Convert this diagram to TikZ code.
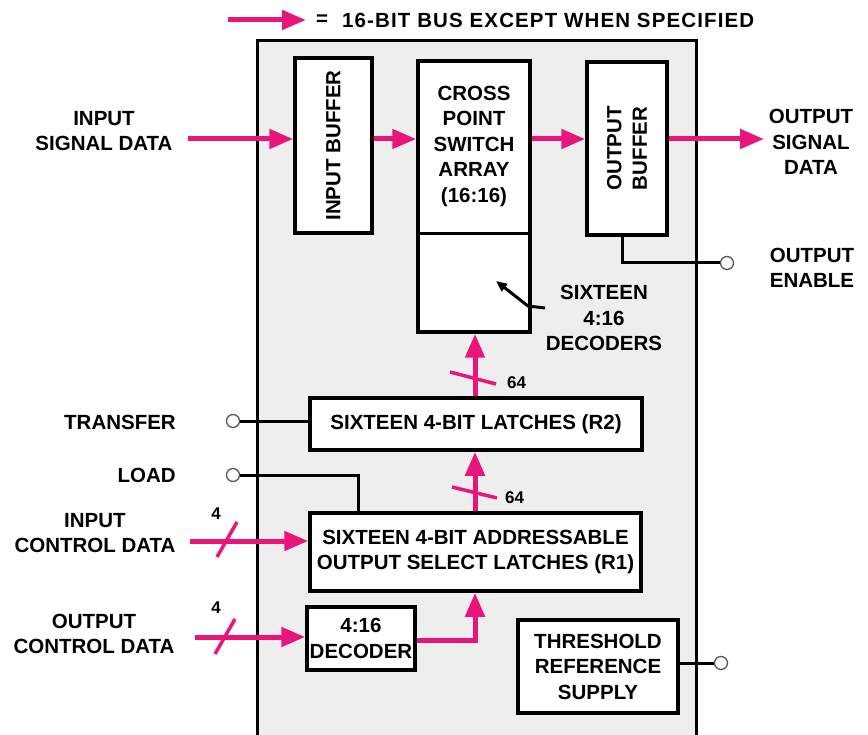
\documentclass[tikz,border=0pt]{standalone}
\usepackage{fontspec}
\setmainfont{Liberation Sans}
\usetikzlibrary{arrows.meta}
\definecolor{bus}{RGB}{232,22,122}
\definecolor{chipfill}{RGB}{238,238,238}
\begin{document}
\begin{tikzpicture}[x=1pt,y=-1pt,
  font=\bfseries\fontsize{20.5}{25.5}\selectfont,
  blk/.style={draw, line width=3.5pt, fill=white, inner sep=0pt, align=center},
  lbl/.style={align=center, inner sep=0pt},
  small/.style={font=\bfseries\fontsize{17}{20}\selectfont, inner sep=0pt},
  pin/.style={circle, draw=black!65, fill=white, line width=1.3pt, minimum size=13pt, inner sep=0pt},
  wire/.style={line width=3pt},
  busline/.style={draw=bus, line width=5pt},
  bus/.style={busline, -{Triangle[length=24pt,width=19pt]}},
  slash/.style={draw=bus, line width=3.5pt}
]
\useasboundingbox (0,0) rectangle (868,735);

% chip outline
\draw[line width=3pt, fill=chipfill] (257,41) rectangle (696,760);

% legend
\coordinate (lg0) at (228,20);
\coordinate (lg1) at (306,20);
\draw[bus] (lg0) -- (lg1);
\node[lbl] (eq) at (322,20) {=};
\node[lbl, anchor=west] (legend) at (342,20) {\addfontfeatures{LetterSpace=5.5}16-BIT BUS EXCEPT WHEN SPECIFIED};

% blocks
\node[blk, minimum width=77pt, minimum height=175pt] (ibuf) at (333.5,145.5) {};
\node[lbl, rotate=90] (ibuft) at (ibuf.center) {INPUT BUFFER};
\node[blk, minimum width=112pt, minimum height=271pt] (xp) at (474,196.5) {};
\node[lbl] (xpt) at (474,146) {CROSS\\POINT\\SWITCH\\ARRAY\\(16:16)};
\coordinate (div) at (0,234);
\draw[line width=3pt] (xp.west |- div) -- (xp.east |- div);
\node[blk, minimum width=80pt, minimum height=173pt] (obuf) at (627,148.5) {};
\node[lbl, rotate=90] (obuft) at (obuf.center) {OUTPUT\\BUFFER};
\node[blk, minimum width=332pt, minimum height=52pt] (r2) at (476,424) {SIXTEEN 4-BIT LATCHES (R2)};
\node[blk, minimum width=331pt, minimum height=78pt] (r1) at (475.5,552) {SIXTEEN 4-BIT ADDRESSABLE\\OUTPUT SELECT LATCHES (R1)};
\node[blk, minimum width=108pt, minimum height=63pt] (dec) at (361,638.5) {4:16\\DECODER};
\node[blk, minimum width=160pt, minimum height=93pt] (thr) at (598,666.5) {THRESHOLD\\REFERENCE\\SUPPLY};

% outside labels
\node[lbl] (isd) at (104,131) {INPUT\\SIGNAL DATA};
\node[lbl] (osd) at (811,142) {OUTPUT\\SIGNAL\\DATA};
\node[lbl] (oen) at (812,268) {OUTPUT\\ENABLE};
\node[lbl, anchor=east] (trl) at (176,422) {TRANSFER};
\node[lbl, anchor=east] (ldl) at (176,475) {LOAD};
\node[lbl] (icl) at (95,533) {INPUT\\CONTROL DATA};
\node[lbl] (ocl) at (94,634) {OUTPUT\\CONTROL DATA};
\node[lbl, align=center] (decl) at (604,318) {SIXTEEN\\4:16\\DECODERS};

% pins
\node[pin] (ptr) at (233,421) {};
\node[pin] (pld) at (233,475) {};
\node[pin] (poe) at (727,263) {};
\node[pin] (pth) at (721,663) {};

% control wires
\draw[wire] (ptr) -- (ptr -| r2.west);
\coordinate (ldx) at (358,0);
\draw[wire] (pld) -| (ldx |- r1.north);
\coordinate (oex) at (622,0);
\draw[wire] (oex |- obuf.south) |- (poe);
\draw[wire] (thr.east |- pth) -- (pth);

% decoder pointer
\coordinate (dp0) at (545,308);
\coordinate (dp1) at (528,306);
\coordinate (dp2) at (496,281);
\draw[wire, -{Triangle[length=11pt,width=9pt]}] (dp0) -- (dp1) -- (dp2);

% signal buses
\coordinate (row) at (0,139);
\coordinate (isa) at (188,139);
\coordinate (osa) at (764,139);
\draw[bus] (isa) -- (ibuf.west |- row);
\draw[bus] (ibuf.east |- row) -- (xp.west |- row);
\draw[bus] (xp.east |- row) -- (obuf.west |- row);
\draw[bus] (obuf.east |- row) -- (osa);

% vertical buses
\coordinate (col) at (475,0);
\draw[bus] (col |- r2.north) -- (col |- xp.south);
\draw[bus] (col |- r1.north) -- (col |- r2.south);
\coordinate (drow) at (0,640);
\draw[bus] (dec.east |- drow) -| (col |- r1.south);
\draw[slash] (450,372) -- (496,384);
\node[small, anchor=west] (w64a) at (507,383) {64};
\draw[slash] (452,487) -- (497,498);
\node[small, anchor=west] (w64b) at (505,498) {64};

% control data buses
\coordinate (ica) at (190,541);
\draw[bus] (ica) -- (r1.west |- ica);
\draw[slash] (217,557) -- (237,522);
\node[small] (w4a) at (216,514) {4};
\coordinate (oca) at (195,637);
\draw[bus] (oca) -- (dec.west |- oca);
\draw[slash] (215,654) -- (235,619);
\node[small] (w4b) at (216,608) {4};
\end{tikzpicture}
\end{document}
